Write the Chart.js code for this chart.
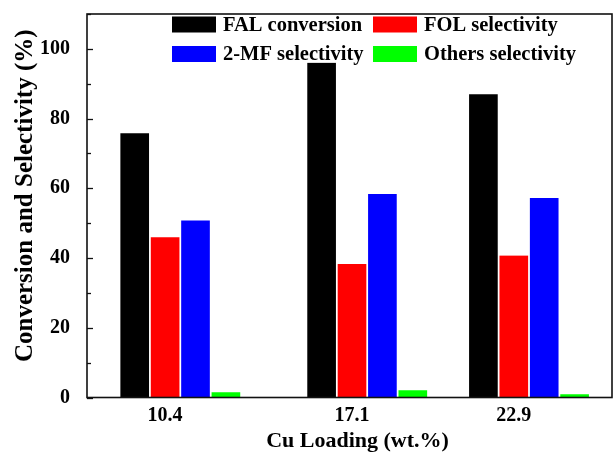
<!DOCTYPE html>
<html>
<head>
<meta charset="utf-8">
<script src="https://cdn.jsdelivr.net/npm/chart.js@4/dist/chart.umd.min.js"></script>
<style>
  html, body { margin: 0; padding: 0; background: #fff; }
  #wrap { width: 613px; height: 453px; }
</style>
</head>
<body>
<div id="wrap"><canvas id="chart" width="613" height="453"></canvas></div>
<script>
// --- data ---
const cuLoading = [10.4, 17.1, 22.9];
const falConversion = [75.8, 96.0, 87.0];
const folSelectivity = [46.0, 38.3, 40.7];
const mfSelectivity = [50.8, 58.4, 57.2];
const othersSelectivity = [1.5, 2.1, 0.9];

const seriesNames = ["FAL conversion", "FOL selectivity", "2-MF selectivity", "Others selectivity"];
const seriesColors = ["#000000", "#ff0000", "#0000ff", "#00ff00"];
const xTitle = "Cu Loading (wt.%)";
const yTitle = "Conversion and Selectivity (%)";

const serif = "'Liberation Serif', 'Times New Roman', serif";

function toPoints(values) {
    return cuLoading.map((x, i) => ({ x: x, y: values[i] }));
}

// an empty slot first, so the tick sits under the 2nd bar like in Origin
const datasets = [{ label: "", data: cuLoading.map(x => ({ x: x, y: null })), backgroundColor: "transparent" }];
[falConversion, folSelectivity, mfSelectivity, othersSelectivity].forEach((vals, i) => {
    datasets.push({
        label: seriesNames[i],
        data: toPoints(vals),
        backgroundColor: seriesColors[i],
        borderColor: "#ffffff",
        borderWidth: { left: 1.2, right: 1.2, top: 0, bottom: 0 },
        barThickness: 30.4
    });
});

// frame, inward ticks, axis titles and the two-column legend
const framePlugin = {
    id: "frame",
    afterDraw(chart) {
        const ctx = chart.ctx;
        const a = chart.chartArea;
        const y = chart.scales.y;
        ctx.save();
        ctx.strokeStyle = "#111";
        ctx.lineWidth = 1.6;
        ctx.strokeRect(a.left, a.top, a.right - a.left, a.bottom - a.top);
        ctx.lineWidth = 1.3;
        y.ticks.forEach(t => {
            const py = Math.round(y.getPixelForValue(t.value)) + 0.5;
            const len = t.value % 20 === 0 ? 6 : 4;
            ctx.beginPath();
            ctx.moveTo(a.left, py);
            ctx.lineTo(a.left + len, py);
            ctx.stroke();
        });

        ctx.fillStyle = "#000";
        ctx.textAlign = "center";
        ctx.textBaseline = "alphabetic";
        ctx.font = "bold 22px " + serif;
        ctx.fillText(xTitle, (a.left + a.right) / 2 + 8, 447);

        ctx.save();
        ctx.translate(32, (a.top + a.bottom) / 2 - 10);
        ctx.rotate(-Math.PI / 2);
        ctx.font = "bold 25px " + serif;
        ctx.fillText(yTitle, 0, 0);
        ctx.restore();

        // legend
        const cols = [172, 373];
        const rows = [24.5, 54];
        ctx.font = "bold 20.5px " + serif;
        ctx.textBaseline = "middle";
        ctx.textAlign = "left";
        for (let i = 0; i < seriesNames.length; i++) {
            const bx = cols[i % 2];
            const by = rows[Math.floor(i / 2)];
            ctx.fillStyle = seriesColors[i];
            ctx.fillRect(bx, by - 8, 44, 16);
            ctx.fillStyle = "#000";
            ctx.fillText(seriesNames[i], bx + 51, by + 1);
        }
        ctx.restore();
    }
};

new Chart(document.getElementById("chart"), {
    type: "bar",
    data: { datasets: datasets },
    options: {
        responsive: false,
        animation: false,
        layout: { padding: { top: 14, right: 1, left: 0, bottom: 0 } },
        plugins: { legend: { display: false }, tooltip: { enabled: false } },
        scales: {
            x: {
                type: "linear",
                min: 7.6,
                max: 26.42,
                offset: false,
                afterBuildTicks: s => { s.ticks = cuLoading.map(v => ({ value: v })); },
                afterFit: s => { s.height = 55.5; s.paddingLeft = 0; s.paddingRight = 0; },
                grid: { display: false },
                border: { display: false },
                ticks: {
                    color: "#000",
                    padding: -2,
                    font: { family: serif, size: 20, weight: "bold" },
                    callback: v => v.toFixed(1)
                }
            },
            y: {
                min: 0,
                max: 110,
                afterFit: s => { s.width = 87; s.paddingTop = 0; s.paddingBottom = 0; },
                grid: { display: false },
                border: { display: false },
                ticks: {
                    stepSize: 10,
                    color: "#000",
                    padding: 9,
                    font: { family: serif, size: 20, weight: "bold" },
                    callback: v => (v % 20 === 0 && v <= 100) ? v : ""
                }
            }
        }
    },
    plugins: [framePlugin]
});
</script>
</body>
</html>
